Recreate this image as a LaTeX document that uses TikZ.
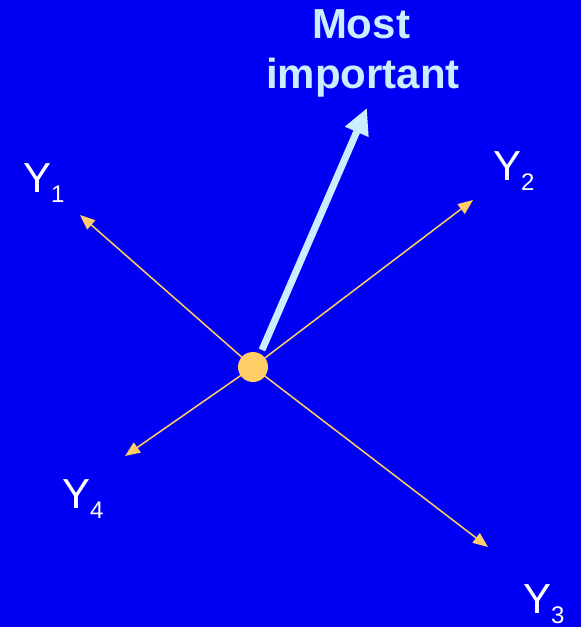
\documentclass[tikz,border=0pt]{standalone}
\usepackage{fontspec}
\setmainfont{Liberation Sans}
\usetikzlibrary{arrows.meta}
\definecolor{bg}{HTML}{0000F5}
\definecolor{orng}{HTML}{FFCC66}
\definecolor{lblue}{HTML}{CCECFF}
\newcommand{\ylab}[1]{Y\raisebox{-10pt}{\fontsize{24}{24}\selectfont #1}}
\tikzset{
  ylabel/.style={anchor=base west, inner sep=0pt, text=white, font=\fontsize{42}{42}\selectfont},
  small/.style={draw=orng, line width=1.5pt, -{Triangle[length=15pt,width=12pt]}},
  big/.style={draw=lblue, line width=7pt, -{Triangle[length=26pt,width=24pt]}, shorten <=0pt},
}
\begin{document}
\begin{tikzpicture}[x=1pt,y=-1pt]
\fill[bg] (0,0) rectangle (581,627);
\useasboundingbox (0,0) rectangle (581,627);
\coordinate (c) at (253,367);
\coordinate (t1) at (80,215);
\coordinate (t2) at (473,200);
\coordinate (t3) at (488,547);
\coordinate (t4) at (125,456);
\coordinate (bs) at (262,350);
\coordinate (bt) at (367,108);
\draw[small] (c) -- (t1);
\draw[small] (c) -- (t2);
\draw[small] (c) -- (t3);
\draw[small] (c) -- (t4);
\draw[big] (bs) -- (bt);
\node[circle, fill=orng, minimum size=30pt, inner sep=0pt] (ctr) at (c) {};
\node[ylabel] (y1) at (23,192) {\ylab{1}};
\node[ylabel] (y2) at (493,180) {\ylab{2}};
\node[ylabel] (y3) at (523,613) {\ylab{3}};
\node[ylabel] (y4) at (62,508) {\ylab{4}};
\node[anchor=base, inner sep=0pt, text=lblue, font=\bfseries\fontsize{42}{42}\selectfont] (mi1) at (361,38) {Most};
\node[anchor=base, inner sep=0pt, text=lblue, font=\bfseries\fontsize{42}{42}\selectfont] (mi2) at (363,88) {important};
\end{tikzpicture}
\end{document}
